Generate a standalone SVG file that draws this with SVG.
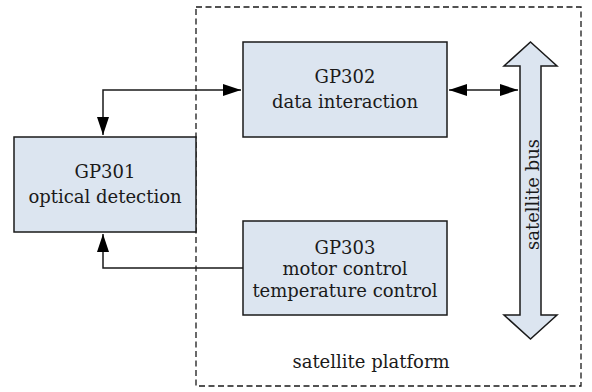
<svg xmlns="http://www.w3.org/2000/svg" width="592" height="392" viewBox="0 0 592 392">
<style>
.box{fill:#dce5f0;stroke:#1a1a1a;stroke-width:1.5}
.t{font-family:"DejaVu Serif","Liberation Serif",serif;font-size:18px;fill:#1a1a1a;text-anchor:middle}
.ln{fill:none;stroke:#1a1a1a;stroke-width:1.5}
</style>
<defs>
<marker id="ah2" viewBox="0 0 18 12" refX="18" refY="6" markerWidth="18" markerHeight="12" markerUnits="userSpaceOnUse" orient="auto-start-reverse">
<path d="M0,0 L18,6 L0,12 Z" fill="#000"/>
</marker>
</defs>
<g id="platform">
<rect x="196" y="7" width="385" height="379" fill="none" stroke="#1a1a1a" stroke-width="1.3" stroke-dasharray="6,3.5"/>
<text class="t" x="371" y="368">satellite platform</text>
</g>
<g id="connectors">
<polyline class="ln" points="103,135 103,90 241,90" marker-start="url(#ah2)" marker-end="url(#ah2)"/>
<line class="ln" x1="449" y1="90" x2="518" y2="90" marker-start="url(#ah2)" marker-end="url(#ah2)"/>
<polyline class="ln" points="243,268 103,268 103,234" marker-end="url(#ah2)"/>
</g>
<g id="gp301">
<rect class="box" x="14" y="137" width="182" height="95"/>
<text class="t" x="105" y="178">GP301</text>
<text class="t" x="105" y="203">optical detection</text>
</g>
<g id="gp302">
<rect class="box" x="243" y="42" width="204" height="95"/>
<text class="t" x="345" y="83">GP302</text>
<text class="t" x="345" y="108">data interaction</text>
</g>
<g id="gp303">
<rect class="box" x="243" y="221" width="204" height="94"/>
<text class="t" x="345" y="254">GP303</text>
<text class="t" x="345" y="275">motor control</text>
<text class="t" x="345" y="297">temperature control</text>
</g>
<g id="bus">
<path class="box" d="M530.5,42 L557,66 L541,66 L541,315 L557,315 L530.5,339 L504,315 L520,315 L520,66 L504,66 Z"/>
<text class="t" transform="translate(538.5,194.5) rotate(-90)">satellite bus</text>
</g>
</svg>
